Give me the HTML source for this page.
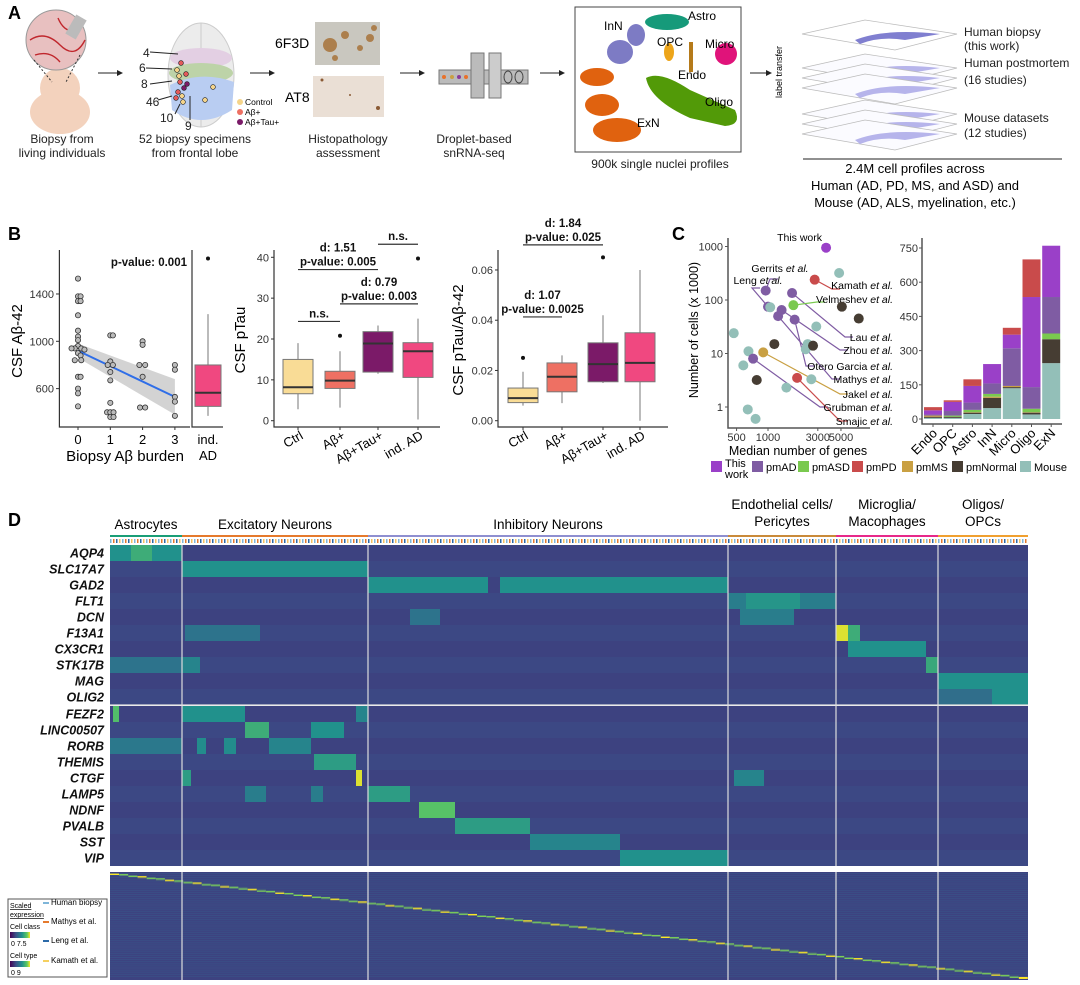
<!DOCTYPE html>
<html><head><meta charset="utf-8">
<style>
html,body{margin:0;padding:0;background:#fff}
svg{display:block;font-family:"Liberation Sans",Arial,sans-serif}
.pl{font-weight:bold;font-size:18px}
.t12{font-size:12px;fill:#222}
.tk{font-size:11px;fill:#333}
.ann{font-size:11.5px;font-weight:bold;fill:#111}
.gene{font-size:12.5px;font-weight:bold;font-style:italic;fill:#111}
</style></head><body>
<svg id="fig" width="1080" height="985" viewBox="0 0 1080 985" xmlns="http://www.w3.org/2000/svg">
<defs>
<marker id="ar" markerWidth="6" markerHeight="6" refX="5" refY="3" orient="auto"><path d="M0,0 L6,3 L0,6 z" fill="#222"/></marker>
<linearGradient id="vir" x1="0" x2="1"><stop offset="0" stop-color="#440154"/><stop offset=".3" stop-color="#3b528b"/><stop offset=".6" stop-color="#21918c"/><stop offset=".85" stop-color="#5ec962"/><stop offset="1" stop-color="#fde725"/></linearGradient>
</defs>

<!-- ================= PANEL A ================= -->
<g id="panelA">
<text class="pl" x="8" y="19">A</text>
<g>
<ellipse cx="60" cy="112" rx="30" ry="22" fill="#f3d2bd"/>
<circle cx="60" cy="88" r="20" fill="#f3d2bd"/>
<circle cx="56" cy="40" r="30" fill="#e8c0c0" stroke="#999" stroke-width="1"/>
<path d="M30,40 Q45,30 60,45 T85,40 M35,55 Q50,50 60,62 M58,18 Q65,35 80,30" stroke="#c0272d" stroke-width="1.4" fill="none"/>
<rect x="70" y="16" width="12" height="22" fill="#bbb" transform="rotate(30 76 27)"/>
<path d="M34,60 L52,82 M80,55 L66,82" stroke="#333" stroke-dasharray="2,2" fill="none"/>
</g>
<text class="t12" x="62" y="143" text-anchor="middle"><tspan x="62">Biopsy from</tspan><tspan x="62" dy="14">living individuals</tspan></text>
<line x1="98" y1="73" x2="122" y2="73" stroke="#222" marker-end="url(#ar)"/>
<g>
<ellipse cx="201" cy="75" rx="33" ry="52" fill="#ececec" stroke="#ccc"/>
<path d="M201,23 L201,127" stroke="#ccc"/>
<ellipse cx="201" cy="58" rx="31" ry="10" fill="#e3cfe3"/>
<ellipse cx="201" cy="73" rx="32" ry="10" fill="#bdd3a8"/>
<path d="M170,85 Q201,70 234,82 L232,110 Q201,130 172,110 z" fill="#b9cdf2"/>
<g fill="#e35a5a" stroke="#222" stroke-width=".6">
<circle cx="181" cy="63" r="2.4"/><circle cx="186" cy="74" r="2.4"/><circle cx="180" cy="82" r="2.4"/><circle cx="184" cy="88" r="2.4" fill="#7a1a68"/><circle cx="178" cy="92" r="2.4"/><circle cx="182" cy="96" r="2.4" fill="#f5d48a"/><circle cx="187" cy="84" r="2.4" fill="#7a1a68"/><circle cx="176" cy="98" r="2.4"/><circle cx="183" cy="102" r="2.4" fill="#f5d48a"/><circle cx="179" cy="76" r="2.4" fill="#f5d48a"/><circle cx="213" cy="87" r="2.4" fill="#f5d48a"/><circle cx="205" cy="100" r="2.4" fill="#f5d48a"/><circle cx="177" cy="70" r="2.4" fill="#f5d48a"/>
</g>
<g stroke="#222" stroke-width="1"><line x1="150" y1="52" x2="178" y2="54"/><line x1="146" y1="68" x2="172" y2="69"/><line x1="150" y1="84" x2="172" y2="81"/><line x1="158" y1="100" x2="172" y2="96"/><line x1="175" y1="114" x2="180" y2="104"/><line x1="190" y1="120" x2="190" y2="96"/></g>
</g>
<g class="t12">
<text x="143" y="57">4</text><text x="139" y="72">6</text><text x="141" y="88">8</text><text x="146" y="106">46</text><text x="160" y="122">10</text><text x="185" y="130">9</text>
</g>
<g font-size="8.5">
<circle cx="240" cy="102" r="3" fill="#f5d48a"/><text x="245" y="105">Control</text>
<circle cx="240" cy="112" r="3" fill="#ee7063"/><text x="245" y="115">Aβ+</text>
<circle cx="240" cy="122" r="3" fill="#7a1a68"/><text x="245" y="125">Aβ+Tau+</text>
</g>
<text class="t12" x="195" y="143" text-anchor="middle"><tspan x="195">52 biopsy specimens</tspan><tspan x="195" dy="14">from frontal lobe</tspan></text>
<line x1="250" y1="73" x2="274" y2="73" stroke="#222" marker-end="url(#ar)"/>
<rect x="315" y="22" width="65" height="43" fill="#c9c7bf"/>
<g fill="#a8733a" opacity=".85"><circle cx="330" cy="45" r="7"/><circle cx="345" cy="35" r="4"/><circle cx="370" cy="38" r="4"/><circle cx="360" cy="48" r="3"/><circle cx="335" cy="58" r="3"/><circle cx="374" cy="28" r="3"/></g>
<rect x="313" y="76" width="71" height="41" fill="#eadfd5"/>
<g fill="#8a5a35"><circle cx="322" cy="80" r="1.5"/><circle cx="378" cy="108" r="2"/><circle cx="350" cy="95" r="1"/></g>
<text x="275" y="48" font-size="14">6F3D</text>
<text x="285" y="102" font-size="14">AT8</text>
<text class="t12" x="348" y="143" text-anchor="middle"><tspan x="348">Histopathology</tspan><tspan x="348" dy="14">assessment</tspan></text>
<line x1="400" y1="73" x2="424" y2="73" stroke="#222" marker-end="url(#ar)"/>
<g>
<rect x="439" y="70" width="89" height="14" fill="#bbb" stroke="#777"/>
<rect x="471" y="53" width="13" height="45" fill="#bbb" stroke="#777"/>
<rect x="489" y="53" width="12" height="45" fill="#ccc" stroke="#777"/>
<g fill="#e8712a"><circle cx="444" cy="77" r="2"/><circle cx="452" cy="77" r="2" fill="#c9a043"/><circle cx="459" cy="77" r="2" fill="#8a3a9a"/><circle cx="466" cy="77" r="2"/></g>
<ellipse cx="508" cy="77" rx="4" ry="6" fill="none" stroke="#444"/><ellipse cx="519" cy="77" rx="4" ry="6" fill="none" stroke="#444"/>
</g>
<text class="t12" x="474" y="143" text-anchor="middle"><tspan x="474">Droplet-based</tspan><tspan x="474" dy="14">snRNA-seq</tspan></text>
<line x1="540" y1="73" x2="564" y2="73" stroke="#222" marker-end="url(#ar)"/>
<g>
<rect x="575" y="7" width="166" height="145" fill="#fff" stroke="#444"/>
<ellipse cx="667" cy="22" rx="22" ry="8" fill="#169a7a"/>
<ellipse cx="620" cy="52" rx="13" ry="12" fill="#7d7bc4"/><ellipse cx="636" cy="35" rx="9" ry="11" fill="#7d7bc4"/>
<ellipse cx="669" cy="52" rx="5" ry="9" fill="#eda51a"/><rect x="689" y="42" width="4" height="30" fill="#b57a1a"/>
<circle cx="726" cy="54" r="11" fill="#e0137a"/>
<ellipse cx="597" cy="77" rx="17" ry="9" fill="#e0620f"/><ellipse cx="602" cy="105" rx="17" ry="11" fill="#e0620f"/><ellipse cx="617" cy="130" rx="24" ry="12" fill="#e0620f"/>
<path d="M646,78 Q660,70 690,90 L735,110 Q742,125 725,126 L690,118 Q650,100 646,78 z" fill="#529a08"/>
<g font-size="12"><text x="604" y="30">InN</text><text x="688" y="20">Astro</text><text x="657" y="46">OPC</text><text x="705" y="48">Micro</text><text x="678" y="79">Endo</text><text x="705" y="106">Oligo</text><text x="637" y="127">ExN</text></g>
</g>
<text class="t12" x="660" y="168" text-anchor="middle">900k single nuclei profiles</text>
<line x1="750" y1="73" x2="771" y2="73" stroke="#222" marker-end="url(#ar)"/>
<text x="782" y="72" font-size="9" transform="rotate(-90 782 72)" text-anchor="middle">label transfer</text>
<g id="layers"></g>
<g class="t12">
<text x="964" y="36">Human biopsy</text><text x="964" y="50">(this work)</text>
<text x="964" y="67">Human postmortem</text><text x="964" y="84">(16 studies)</text>
<text x="964" y="122">Mouse datasets</text><text x="964" y="137">(12 studies)</text>
</g>
<line x1="803" y1="159" x2="1062" y2="159" stroke="#222"/>
<text x="915" y="173" font-size="13" text-anchor="middle"><tspan x="915">2.4M cell profiles across</tspan><tspan x="915" dy="17">Human (AD, PD, MS, and ASD) and</tspan><tspan x="915" dy="17">Mouse (AD, ALS, myelination, etc.)</tspan></text>
</g>

<!-- ================= PANEL B ================= -->
<g id="panelB">
<text class="pl" x="8" y="240">B</text>
<g id="b1"></g><g id="b2"></g><g id="b3"></g>
</g>

<!-- ================= PANEL C ================= -->
<g id="panelC">
<text class="pl" x="672" y="240">C</text>
<g id="c1"></g><g id="c2"></g><g id="cleg"></g>
</g>

<!-- ================= PANEL D ================= -->
<g id="panelD">
<text class="pl" x="8" y="526">D</text>
<g id="dhead"></g><g id="dheat"></g>
</g>
</svg>

<script>
const NS='http://www.w3.org/2000/svg';
function mk(parent,tag,attrs,txt){const e=document.createElementNS(NS,tag);for(const k in attrs)e.setAttribute(k,attrs[k]);if(txt!==undefined)e.textContent=txt;parent.appendChild(e);return e;}

/* ---------- Panel A layers ---------- */
const layerTops=[24,58,68,78,104,114,124];
(function(){const g=document.getElementById('layers');
layerTops.forEach((t,i)=>{const p=mk(g,'path',{d:`M802,${t+10} L865,${t-4} L957,${t+10} L895,${t+26} z`,fill:i==0?'#fff':'#fbfbff',stroke:'#bbb','stroke-width':'.7'});


const s=mk(g,'path',{d:`M855,${t+16} Q885,${t+4} 940,${t+10} L905,${t+16} Q880,${t+12} 860,${t+20} z`,fill:i==0?'#6a68c8':'#a9a7e8',opacity:'.85'});


});})();

/* ---------- Panel B1: CSF Abeta42 vs burden ---------- */
const b1Burden=[0,0,0,0,0,0,0,0,0,0,0,0,0,0,0,0,0,0,0,0,0,0,0, 1,1,1,1,1,1,1,1,1,1,1,1,1, 2,2,2,2,2,2,2, 3,3,3,3,3];
const b1Jit=[0,0,.08,0,.08,0,0,0,0,0,-.1,-.2,.1,.2,0,.08,-.1,.1,0,.08,0,0,0, 0,.08,0,-.08,.08,0,0,0,-.1,0,.1,0,.1, 0,0,-.1,.08,0,-.08,.08, 0,0,0,0,0];
const b1Value=[1530,1380,1380,1340,1340,1220,1090,1040,1010,960,940,940,940,930,900,880,840,840,700,700,600,560,450, 1050,1050,830,800,800,740,670,480,400,400,400,360,360, 1000,970,800,800,700,440,440, 800,760,530,490,370];
const b1Fit=[920,530];
const b1Band=[[860,980],[380,680]];
const b1Ticks=[600,1000,1400];
const b1IndAD={lo:370,q1:450,med:565,q3:800,hi:1230,out:[1700]};
(function(){const g=document.getElementById('b1');
const x=v=>78+v*32.3, y=v=>341.3-(v-1000)*0.1183;
const bp=`M${x(0)},${y(b1Band[0][1])} L${x(3)},${y(b1Band[1][1])} L${x(3)},${y(b1Band[1][0])} L${x(0)},${y(b1Band[0][0])} z`;
let e=mk(g,'path',{d:bp,fill:'#c8c8c8',opacity:'.8'});


e=mk(g,'line',{x1:x(0),y1:y(b1Fit[0]),x2:x(3),y2:y(b1Fit[1]),stroke:'#2f6ee8','stroke-width':2});


b1Value.forEach((v,i)=>{const c=mk(g,'circle',{cx:x(b1Burden[i]+b1Jit[i]),cy:y(v),r:2.6,fill:'#bbb',stroke:'#333','stroke-width':.8});

});
e=mk(g,'path',{d:`M59.4,250 L59.4,427 L190,427`,stroke:'#333',fill:'none','stroke-width':1.2});


e=mk(g,'path',{d:`M192,250 L192,427 L223,427`,stroke:'#333',fill:'none','stroke-width':1.2});


b1Ticks.forEach(t=>{mk(g,'line',{x1:56,x2:59.4,y1:y(t),y2:y(t),stroke:'#333'});
const tt=mk(g,'text',{x:54,y:y(t)+4,'text-anchor':'end',class:'tk'},t);

});
[0,1,2,3].forEach(b=>{mk(g,'line',{x1:x(b),x2:x(b),y1:427,y2:430,stroke:'#333'});
const tt=mk(g,'text',{x:x(b),y:444,'text-anchor':'middle','font-size':13},b);

});
const bx=208,bw=26;
mk(g,'line',{x1:bx,x2:bx,y1:y(b1IndAD.lo),y2:y(b1IndAD.hi),stroke:'#777'});
e=mk(g,'rect',{x:bx-bw/2,y:y(b1IndAD.q3),width:bw,height:y(b1IndAD.q1)-y(b1IndAD.q3),fill:'#f04880',stroke:'#777'});


mk(g,'line',{x1:bx-bw/2,x2:bx+bw/2,y1:y(b1IndAD.med),y2:y(b1IndAD.med),stroke:'#333','stroke-width':2});
b1IndAD.out.forEach(o=>mk(g,'circle',{cx:bx,cy:y(o),r:2,fill:'#111'}));
let t=mk(g,'text',{x:208,y:444,'text-anchor':'middle','font-size':13},'ind.');
mk(g,'text',{x:208,y:460,'text-anchor':'middle','font-size':13},'AD');
t=mk(g,'text',{x:125,y:461,'text-anchor':'middle','font-size':15},'Biopsy Aβ burden');

t=mk(g,'text',{x:22,y:341,'text-anchor':'middle','font-size':15,transform:'rotate(-90 22 341)'},'CSF Aβ-42');

t=mk(g,'text',{x:187,y:266,'text-anchor':'end',class:'ann'},'p-value: 0.001');

})();

/* ---------- Box plot helper for B2/B3 ---------- */
const groups=['Ctrl','Aβ+','Aβ+Tau+','ind. AD'];
const groupColors=['#f9dc96','#ee7063','#7b1a68','#f04880'];
const b2Lo=[2.8,3.2,11.5,0.3], b2Q1=[6.6,7.9,11.9,10.6], b2Med=[8.2,9.8,18.9,17], b2Q3=[15,12.1,21.8,19.1], b2Hi=[19,17,23.3,25];
const b2Out=[[],[20.8],[],[39.7]];
const b2Ticks=[0,10,20,30,40];
const b3Lo=[.006,.007,.015,0], b3Q1=[.0072,.0115,.0155,.0155], b3Med=[.009,.0175,.0225,.023], b3Q3=[.013,.023,.031,.035], b3Hi=[.0195,.026,.042,.06];
const b3Out=[[.025],[],[.065],[]];
const b3Ticks=[0,0.02,0.04,0.06];
function boxPlot(id,ax,xs,y,lo,q1,med,q3,hi,out,ticks,fmt,title,titleX,brackets,nm){
const g=document.getElementById(id);
xs.forEach((cx,i)=>{const w=30;
mk(g,'line',{x1:cx,x2:cx,y1:y(lo[i]),y2:y(hi[i]),stroke:'#777'});
const r=mk(g,'rect',{x:cx-w/2,y:y(q3[i]),width:w,height:y(q1[i])-y(q3[i]),fill:groupColors[i],stroke:'#777'});


mk(g,'line',{x1:cx-w/2,x2:cx+w/2,y1:y(med[i]),y2:y(med[i]),stroke:'#333','stroke-width':2});
out[i].forEach(o=>mk(g,'circle',{cx:cx,cy:y(o),r:2,fill:'#111'}));
mk(g,'line',{x1:cx,x2:cx,y1:427,y2:430,stroke:'#333'});
const t=mk(g,'text',{x:cx+6,y:438,'text-anchor':'end','font-size':13,transform:`rotate(-30 ${cx+6} 438)`},groups[i]);


});
let e=mk(g,'path',{d:`M${ax[0]},250 L${ax[0]},427 L${ax[1]},427`,stroke:'#333',fill:'none','stroke-width':1.2});


ticks.forEach(tv=>{mk(g,'line',{x1:ax[0]-3,x2:ax[0],y1:y(tv),y2:y(tv),stroke:'#333'});
const t=mk(g,'text',{x:ax[0]-5,y:y(tv)+4,'text-anchor':'end',class:'tk'},fmt(tv));

});
const t=mk(g,'text',{x:titleX,y:340,'text-anchor':'middle','font-size':15,transform:`rotate(-90 ${titleX} 340)`},title);


brackets.forEach(b=>{const yy=y(b.at);
const l=mk(g,'line',{x1:xs[b.a],x2:xs[b.b],y1:yy,y2:yy,stroke:'#333','stroke-width':1.2});


const cx=(xs[b.a]+xs[b.b])/2;
b.lines.forEach((s,k)=>{const tt=mk(g,'text',{x:cx,y:yy-4-(b.lines.length-1-k)*14,'text-anchor':'middle',class:'ann'},s);

});});
}
boxPlot('b2',[274,440],[298,340,378,418],v=>420.7-v*4.085,b2Lo,b2Q1,b2Med,b2Q3,b2Hi,b2Out,b2Ticks,v=>v,'CSF pTau',245,
[{a:0,b:1,at:24.3,lines:['n.s.']},{a:1,b:3,at:28.6,lines:['d: 0.79','p-value: 0.003']},{a:0,b:2,at:37.0,lines:['d: 1.51','p-value: 0.005']},{a:2,b:3,at:43.2,lines:['n.s.']}],'ptau');
boxPlot('b3',[498,668],[523,562,603,640],v=>420.7-v*2512,b3Lo,b3Q1,b3Med,b3Q3,b3Hi,b3Out,b3Ticks,v=>v.toFixed(2),'CSF pTau/Aβ-42',463,
[{a:0,b:1,at:.0413,lines:['d: 1.07','p-value: 0.0025']},{a:0,b:2,at:.0700,lines:['d: 1.84','p-value: 0.025']}],'ratio');

/* ---------- Panel C1: scatter ---------- */
const studyColors={This:'#9a40c8',pmAD:'#7f5ca3',pmASD:'#7ac94f',pmPD:'#c94b4b',pmMS:'#c9a043',pmNormal:'#463d33',Mouse:'#93bfb8'};
const cGenes=[3600,4800,2800,950,1700,1000,1050,1750,5100,1350,1250,1800,7400,470,2900,2400,2300,2700,1150,650,900,720,580,780,1900,2600,1500,640,760];
const cCells=[950,320,240,150,135,75,73,80,75,65,50,43,45,24,32,15,12,14,15,11,10.5,8,6,3.2,3.5,3.3,2.3,0.9,0.6];
const cGroup=['This','Mouse','pmPD','pmAD','pmAD','pmAD','Mouse','pmASD','pmNormal','pmAD','pmAD','pmAD','pmNormal','Mouse','Mouse','Mouse','Mouse','pmNormal','pmNormal','Mouse','pmMS','pmAD','Mouse','pmNormal','pmPD','Mouse','Mouse','Mouse','Mouse'];
const cLabels=['This work','','Kamath','Gerrits','Lau','Leng','','Velmeshev','','Zhou','Mathys','Otero Garcia','','','','','','','','','Jakel','Grubman','','','Smajic','','','',''];
const cLabelPos={'This work':[822,241,'end',null],'Kamath':[893,289,'end',[832,289]],'Gerrits':[780,272,'middle',[770,279]],'Leng':[758,284,'middle',[752,288]],'Velmeshev':[893,303,'end',[817,302]],'Lau':[893,341,'end',[845,337]],'Zhou':[893,354,'end',[840,350]],'Otero Garcia':[893,370,'end',[806,366]],'Mathys':[893,383,'end',[832,379]],'Jakel':[893,398,'end',[840,394]],'Grubman':[893,411,'end',[820,407]],'Smajic':[893,425,'end',[840,421]]};
const cXTicks=[500,1000,3000,5000], cYTicks=[1,10,100,1000];
(function(){const g=document.getElementById('c1');
const x=v=>768+Math.log10(v/1000)*104.4, y=v=>407-Math.log10(v)*53.5;
cGenes.forEach((gv,i)=>{const lab=cLabels[i];
if(lab&&cLabelPos[lab][3]){const p=cLabelPos[lab][3];const l=mk(g,'polyline',{points:`${x(gv)},${y(cCells[i])} ${p[0]},${p[1]} ${p[0]+8},${p[1]}`,fill:'none',stroke:studyColors[cGroup[i]],'stroke-width':1.2});

}});
cGenes.forEach((gv,i)=>{const c=mk(g,'circle',{cx:x(gv),cy:y(cCells[i]),r:5,fill:studyColors[cGroup[i]]});


const lab=cLabels[i];if(lab){const p=cLabelPos[lab];
const t=mk(g,'text',{x:p[0],y:p[1],'text-anchor':p[2],'font-size':10.5});


if(lab=='This work'){t.textContent=lab;}else{mk(t,'tspan',{},lab+' ');mk(t,'tspan',{'font-style':'italic'},'et al.');}}});
let e=mk(g,'path',{d:'M728,238 L728,428 L870,428',stroke:'#555',fill:'none','stroke-width':1.5});


cXTicks.forEach(t=>{mk(g,'line',{x1:x(t),x2:x(t),y1:428,y2:431,stroke:'#555'});const tt=mk(g,'text',{x:x(t),y:441,'text-anchor':'middle',class:'tk'},t);
});
cYTicks.forEach(t=>{mk(g,'line',{x1:725,x2:728,y1:y(t),y2:y(t),stroke:'#555'});const tt=mk(g,'text',{x:723,y:y(t)+4,'text-anchor':'end',class:'tk'},t);
});
let t=mk(g,'text',{x:798,y:455,'text-anchor':'middle','font-size':12.5},'Median number of genes');
t=mk(g,'text',{x:698,y:330,'text-anchor':'middle','font-size':12.5,transform:'rotate(-90 698 330)'},'Number of cells (x 1000)');
})();

/* ---------- Panel C2: stacked bars ---------- */
const cellClasses=['Endo','OPC','Astro','InN','Micro','Oligo','ExN'];
const stackOrder=['Mouse','pmNormal','pmMS','pmASD','pmAD','This','pmPD'];
const sMouse=[5,5,22,48,135,20,245];
const sPmNormal=[5,5,6,45,5,8,105];
const sPmMS=[5,0,2,5,5,2,0];
const sPmASD=[0,5,10,12,0,15,25];
const sPmAD=[5,20,32,46,165,95,160];
const sThis=[18,40,73,85,60,395,225];
const sPmPD=[14,7,29,0,30,165,0];
const barTicks=[0,150,300,450,600,750];
(function(){const g=document.getElementById('c2');
const series=[sMouse,sPmNormal,sPmMS,sPmASD,sPmAD,sThis,sPmPD];
const y=v=>419-v*0.228, xc=i=>933+i*19.7, w=18;
cellClasses.forEach((c,i)=>{let acc=0;
series.forEach((s,k)=>{if(s[i]<=0)return;const r=mk(g,'rect',{x:xc(i)-w/2,y:y(acc+s[i]),width:w,height:y(acc)-y(acc+s[i]),fill:studyColors[stackOrder[k]]});

acc+=s[i];});
mk(g,'line',{x1:xc(i),x2:xc(i),y1:424,y2:427,stroke:'#555'});
const t=mk(g,'text',{x:xc(i)+5,y:434,'text-anchor':'end','font-size':13,transform:`rotate(-45 ${xc(i)+5} 434)`},c);
});
let e=mk(g,'path',{d:'M922,238 L922,424 L1062,424',stroke:'#555',fill:'none','stroke-width':1.5});

barTicks.forEach(t=>{mk(g,'line',{x1:919,x2:922,y1:y(t),y2:y(t),stroke:'#555'});const tt=mk(g,'text',{x:918,y:y(t)+4,'text-anchor':'end',class:'tk'},t);
});
})();
const legendItems=[['This','This','work',712],['pmAD','pmAD','',753],['pmASD','pmASD','',799],['pmPD','pmPD','',853],['pmMS','pmMS','',903],['pmNormal','pmNormal','',953],['Mouse','Mouse','',1021]];
(function(){const g=document.getElementById('cleg');
legendItems.forEach(it=>{const r=mk(g,'rect',{x:it[3]-1,y:461,width:11,height:11,fill:studyColors[it[0]]});

const t=mk(g,'text',{x:it[3]+13,y:it[2]?467:471,'font-size':11},it[1]);

if(it[2])mk(g,'text',{x:it[3]+13,y:478,'font-size':11},it[2]);});})();

/* ---------- Panel D: heatmap ---------- */
function vir(t){t=Math.max(0,Math.min(1,t));const s=[[0,[68,1,84]],[.25,[59,82,139]],[.5,[33,145,140]],[.75,[94,201,98]],[1,[253,231,37]]];
for(let i=1;i<s.length;i++){if(t<=s[i][0]){const a=s[i-1],b=s[i],f=(t-a[0])/(b[0]-a[0]);return `rgb(${a[1].map((v,k)=>Math.round(v+(b[1][k]-v)*f)).join(',')})`;}}return 'rgb(253,231,37)';}
const classNames=['Astrocytes','Excitatory Neurons','Inhibitory Neurons','Endothelial cells/|Pericytes','Microglia/|Macophages','Oligos/|OPCs'];
const classStart=[0,24,86,206,242,276];
const classEnd=[24,86,206,242,276,306];
const classColors=['#1a9e77','#e57a2d','#8f8fd0','#c98a3a','#e7298a','#f0a030'];
const genes1=['AQP4','SLC17A7','GAD2','FLT1','DCN','F13A1','CX3CR1','STK17B','MAG','OLIG2'];
const genes2=['FEZF2','LINC00507','RORB','THEMIS','CTGF','LAMP5','NDNF','PVALB','SST','VIP'];
const expr1=[[[0,24,.5],[7,14,.62]],[[24,86,.5]],[[86,126,.5],[130,206,.5]],[[206,242,.42],[212,230,.52]],[[210,228,.42],[100,110,.38]],[[242,246,.95],[246,250,.62],[25,50,.38]],[[246,272,.5]],[[0,24,.38],[24,30,.45],[272,276,.6]],[[276,306,.5]],[[276,294,.36],[294,306,.5]]];
const expr2=[[[1,3,.7],[24,45,.5],[82,86,.45]],[[45,53,.62],[67,78,.5]],[[0,24,.4],[29,32,.48],[38,42,.48],[53,67,.45]],[[68,82,.55]],[[24,27,.55],[82,84,.95],[208,218,.45]],[[86,100,.55],[45,52,.42],[67,71,.42]],[[103,115,.72]],[[115,140,.55]],[[140,170,.45]],[[170,206,.5]]];
const hmBase=.2;
(function(){const g=document.getElementById('dheat'),h=document.getElementById('dhead');
const X0=110,CW=3,x=c=>X0+c*CW;
classNames.forEach((n,i)=>{const cx=(x(classStart[i])+x(classEnd[i]))/2;const parts=n.split('|');
parts.forEach((p,k)=>{const t=mk(h,'text',{x:cx,y:(parts.length>1?509:529)+k*17,'text-anchor':'middle','font-size':13.5},p);
});
const l=mk(h,'rect',{x:x(classStart[i]),y:535,width:x(classEnd[i])-x(classStart[i]),height:2,fill:classColors[i]});

for(let c=classStart[i];c<classEnd[i];c++)mk(h,'rect',{x:x(c),y:539,width:1.5,height:4,fill:['#7fb6d9','#e57a2d','#2c6aa8','#f5c060'][c%4]});
});
function block(genes,expr,top,nm){genes.forEach((gn,r)=>{const yy=top+r*16;
const bg=mk(g,'rect',{x:X0,y:yy,width:918,height:16,fill:vir(hmBase+(r%2)*.02)});

expr[r].forEach(s=>{const c=mk(g,'rect',{x:x(s[0]),y:yy,width:(s[1]-s[0])*CW,height:16,fill:vir(s[2])});
});
const t=mk(g,'text',{x:104,y:yy+12.5,'text-anchor':'end',class:'gene'},gn);
});}
block(genes1,expr1,545,'b1');block(genes2,expr2,706,'b2');
const bb=mk(g,'rect',{x:X0,y:872,width:918,height:108,fill:vir(.2)});

const nTypes=100;
for(let i=0;i<nTypes;i++){const c=mk(g,'rect',{x:x(i*306/nTypes),y:873+i*1.05,width:9,height:2,fill:vir(i%3==0?1:.8)});

if(i%2==0)mk(g,'rect',{x:X0,y:873+i*1.05,width:918,height:1,fill:vir(.27),opacity:.6});}
[24,86,206,242,276].forEach(c=>{const l=mk(g,'line',{x1:x(c),x2:x(c),y1:545,y2:980,stroke:'#ddd','stroke-width':1.2});
});
mk(g,'line',{x1:X0,x2:1028,y1:705,y2:705,stroke:'#ddd','stroke-width':1.2});
mk(g,'rect',{x:X0,y:866,width:918,height:6,fill:'#fff'});
const lg=mk(g,'g',{});

mk(lg,'rect',{x:8,y:899,width:99,height:78,fill:'#fff',stroke:'#555'});
mk(lg,'text',{x:10,y:908,'font-size':7,'text-decoration':'underline'},'Scaled');
mk(lg,'text',{x:10,y:917,'font-size':7,'text-decoration':'underline'},'expression');
mk(lg,'text',{x:10,y:929,'font-size':7},'Cell class');
mk(lg,'rect',{x:10,y:932,width:20,height:6,fill:'url(#vir)'});
mk(lg,'text',{x:11,y:946,'font-size':7},'0   7.5');
mk(lg,'text',{x:10,y:958,'font-size':7},'Cell type');
mk(lg,'rect',{x:10,y:961,width:20,height:6,fill:'url(#vir)'});
mk(lg,'text',{x:11,y:975,'font-size':7},'0    9');
[['Human biopsy','#7fb6d9',905],['Mathys et al.','#e57a2d',924],['Leng et al.','#2c6aa8',943],['Kamath et al.','#f5d060',963]].forEach(a=>{mk(lg,'rect',{x:43,y:a[2]-3,width:6,height:2,fill:a[1]});
const t=mk(lg,'text',{x:51,y:a[2],'font-size':8},a[0]);});
})();
</script>
</body></html>
